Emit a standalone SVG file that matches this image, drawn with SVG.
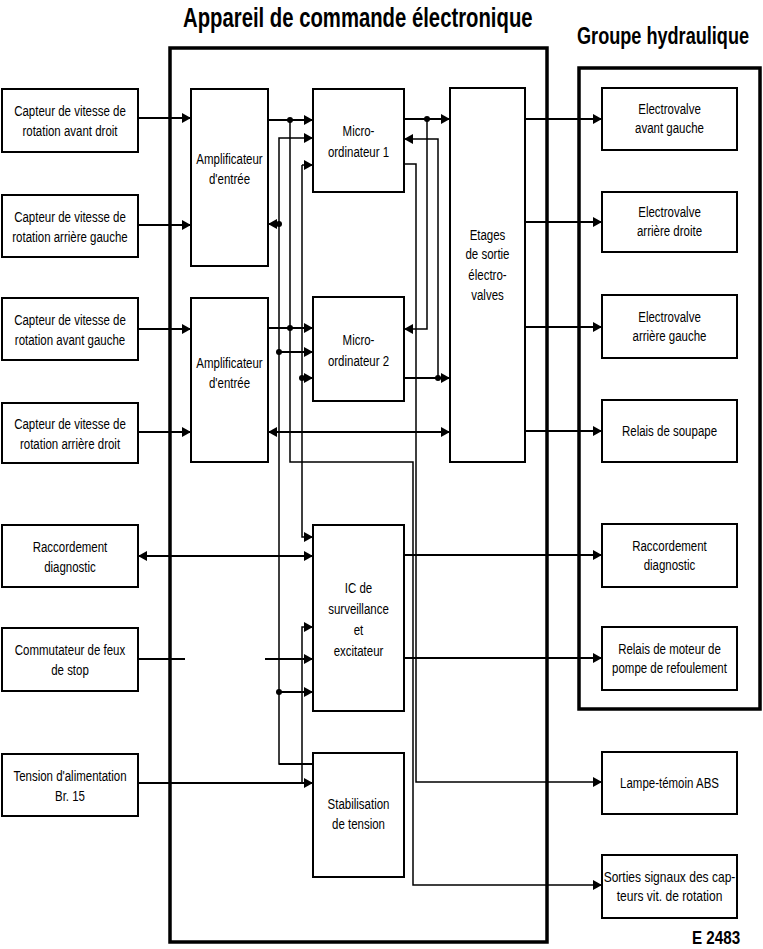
<svg xmlns="http://www.w3.org/2000/svg" width="763" height="949" viewBox="0 0 763 949">
<style>
.bx{fill:#fff;stroke:#000;stroke-width:2}
.frame{fill:none;stroke:#000;stroke-width:3.5}
.t{font-family:"Liberation Sans",Arial,sans-serif;font-size:14px;fill:#000;text-anchor:middle}
.h{font-family:"Liberation Sans",Arial,sans-serif;font-weight:bold;fill:#000}
.w{fill:none;stroke:#000;stroke-width:2}
.b{fill:none;stroke:#000;stroke-width:1.5}
.a{marker-end:url(#ah)}
.d2{marker-start:url(#ah);marker-end:url(#ah)}
.dot{fill:#000}
</style>
<defs>
<marker id="ah" markerUnits="userSpaceOnUse" viewBox="0 0 9 10" markerWidth="9" markerHeight="10" refX="9" refY="5" orient="auto-start-reverse"><path d="M0,0 L9,5 L0,10 z" fill="#000"/></marker>
</defs>
<rect width="763" height="949" fill="#fff"/>

<g id="titles">
<text class="h" font-size="27" transform="translate(183 27) scale(.752 1)" x="0" y="0">Appareil de commande électronique</text>
<text class="h" font-size="24" transform="translate(577 44) scale(.755 1)" x="0" y="0">Groupe hydraulique</text>
<text class="h" font-size="19" transform="translate(692 944) scale(.8 1)" x="0" y="0">E 2483</text>
</g>

<g id="appareil-frame"><rect class="frame" x="170" y="48" width="377" height="894"/></g>
<g id="groupe-frame"><rect class="frame" x="579" y="68" width="181" height="641"/></g>

<g id="connectors">
<path class="w a" d="M138,118 H191"/>
<path class="w a" d="M138,225 H191"/>
<path class="w a" d="M138,329 H191"/>
<path class="w a" d="M138,432 H191"/>
<path class="w a" d="M268,120 H313"/>
<path class="w a" d="M268,328 H313"/>
<path class="b a" d="M290,120 V462 H413 V885 H602"/>
<path class="b a" d="M313,764 H279 V138 H313"/>
<path class="w" d="M279,764 H313"/>
<path class="w a" d="M279,224 H268"/>
<path class="w a" d="M279,352 H313"/>
<path class="w a" d="M279,692 H313"/>
<path class="b a" d="M302,165 H313"/>
<path class="b a" d="M302,165 V537 H313"/>
<path class="w a" d="M302,378 H313"/>
<path class="b a" d="M302,783 V627 H313"/>
<path class="w d2" d="M138,556 H313"/>
<path class="w" d="M138,659 H185"/>
<path class="w a" d="M265,659 H313"/>
<path class="w a" d="M138,783 H313"/>
<path class="w a" d="M404,119 H450"/>
<path class="b a" d="M427,119 V329 H404"/>
<path class="b a" d="M438,378 V139 H404"/>
<path class="w a" d="M404,378 H450"/>
<path class="b a" d="M404,164 H416 V782 H602"/>
<path class="w d2" d="M268,432 H450"/>
<path class="w a" d="M525,119 H602"/>
<path class="w a" d="M525,222 H602"/>
<path class="w a" d="M525,327 H602"/>
<path class="w a" d="M525,431 H602"/>
<path class="w a" d="M404,555 H602"/>
<path class="w a" d="M404,658 H602"/>
<circle class="dot" cx="290" cy="120" r="3"/>
<circle class="dot" cx="290" cy="328" r="3"/>
<circle class="dot" cx="279" cy="224" r="3"/>
<circle class="dot" cx="279" cy="352" r="3"/>
<circle class="dot" cx="279" cy="692" r="3"/>
<circle class="dot" cx="302" cy="378" r="3"/>
<circle class="dot" cx="427" cy="119" r="3"/>
<circle class="dot" cx="438" cy="378" r="3"/>
</g>

<g id="cap1"><rect class="bx" x="2" y="89" width="136" height="63"/><text class="t" transform="translate(70) scale(.82 1)"><tspan x="0" y="116.5">Capteur de vitesse de</tspan><tspan x="0" y="136.5">rotation avant droit</tspan></text></g>
<g id="cap2"><rect class="bx" x="2" y="195" width="136" height="62"/><text class="t" transform="translate(70) scale(.82 1)"><tspan x="0" y="222">Capteur de vitesse de</tspan><tspan x="0" y="242">rotation arrière gauche</tspan></text></g>
<g id="cap3"><rect class="bx" x="2" y="298" width="136" height="62"/><text class="t" transform="translate(70) scale(.82 1)"><tspan x="0" y="325">Capteur de vitesse de</tspan><tspan x="0" y="345">rotation avant gauche</tspan></text></g>
<g id="cap4"><rect class="bx" x="2" y="403" width="136" height="60"/><text class="t" transform="translate(70) scale(.82 1)"><tspan x="0" y="429">Capteur de vitesse de</tspan><tspan x="0" y="449">rotation arrière droit</tspan></text></g>
<g id="diag-left"><rect class="bx" x="2" y="525" width="136" height="62"/><text class="t" transform="translate(70) scale(.82 1)"><tspan x="0" y="552">Raccordement</tspan><tspan x="0" y="572">diagnostic</tspan></text></g>
<g id="stop"><rect class="bx" x="2" y="628" width="136" height="63"/><text class="t" transform="translate(70) scale(.82 1)"><tspan x="0" y="655.5">Commutateur de feux</tspan><tspan x="0" y="675.5">de stop</tspan></text></g>
<g id="tension"><rect class="bx" x="2" y="754" width="136" height="62"/><text class="t" transform="translate(70) scale(.82 1)"><tspan x="0" y="781">Tension d'alimentation</tspan><tspan x="0" y="801">Br. 15</tspan></text></g>

<g id="amp1"><rect class="bx" x="191" y="89" width="77" height="177"/><text class="t" transform="translate(229.5) scale(.82 1)"><tspan x="0" y="164">Amplificateur</tspan><tspan x="0" y="184">d'entrée</tspan></text></g>
<g id="amp2"><rect class="bx" x="191" y="298" width="77" height="164"/><text class="t" transform="translate(229.5) scale(.82 1)"><tspan x="0" y="368">Amplificateur</tspan><tspan x="0" y="388">d'entrée</tspan></text></g>
<g id="micro1"><rect class="bx" x="313" y="89" width="91" height="103"/><text class="t" transform="translate(358.5) scale(.82 1)"><tspan x="0" y="136">Micro-</tspan><tspan x="0" y="157">ordinateur 1</tspan></text></g>
<g id="micro2"><rect class="bx" x="313" y="297" width="91" height="104"/><text class="t" transform="translate(358.5) scale(.82 1)"><tspan x="0" y="345">Micro-</tspan><tspan x="0" y="366">ordinateur 2</tspan></text></g>
<g id="etages"><rect class="bx" x="450" y="88" width="75" height="374"/><text class="t" transform="translate(487.5) scale(.82 1)"><tspan x="0" y="240">Etages</tspan><tspan x="0" y="259">de sortie</tspan><tspan x="0" y="280">électro-</tspan><tspan x="0" y="300">valves</tspan></text></g>
<g id="ic"><rect class="bx" x="313" y="525" width="91" height="186"/><text class="t" transform="translate(358.5) scale(.82 1)"><tspan x="0" y="593">IC de</tspan><tspan x="0" y="614">surveillance</tspan><tspan x="0" y="635">et</tspan><tspan x="0" y="656">excitateur</tspan></text></g>
<g id="stab"><rect class="bx" x="313" y="753" width="91" height="124"/><text class="t" transform="translate(358.5) scale(.82 1)"><tspan x="0" y="809">Stabilisation</tspan><tspan x="0" y="829">de tension</tspan></text></g>

<g id="ev-avg"><rect class="bx" x="602" y="88" width="135" height="62"/><text class="t" transform="translate(669.5) scale(.82 1)"><tspan x="0" y="114">Electrovalve</tspan><tspan x="0" y="133">avant gauche</tspan></text></g>
<g id="ev-ard"><rect class="bx" x="602" y="192" width="135" height="60"/><text class="t" transform="translate(669.5) scale(.82 1)"><tspan x="0" y="217">Electrovalve</tspan><tspan x="0" y="236">arrière droite</tspan></text></g>
<g id="ev-arg"><rect class="bx" x="602" y="295" width="135" height="63"/><text class="t" transform="translate(669.5) scale(.82 1)"><tspan x="0" y="322">Electrovalve</tspan><tspan x="0" y="341">arrière gauche</tspan></text></g>
<g id="relais-soupape"><rect class="bx" x="602" y="400" width="135" height="62"/><text class="t" transform="translate(669.5) scale(.82 1)"><tspan x="0" y="436">Relais de soupape</tspan></text></g>
<g id="diag-right"><rect class="bx" x="602" y="524" width="135" height="63"/><text class="t" transform="translate(669.5) scale(.82 1)"><tspan x="0" y="551">Raccordement</tspan><tspan x="0" y="570">diagnostic</tspan></text></g>
<g id="relais-pompe"><rect class="bx" x="602" y="627" width="135" height="63"/><text class="t" transform="translate(669.5) scale(.82 1)"><tspan x="0" y="654">Relais de moteur de</tspan><tspan x="0" y="673">pompe de refoulement</tspan></text></g>
<g id="lampe"><rect class="bx" x="602" y="752" width="135" height="62"/><text class="t" transform="translate(669.5) scale(.82 1)"><tspan x="0" y="788">Lampe-témoin ABS</tspan></text></g>
<g id="sorties"><rect class="bx" x="602" y="855" width="135" height="63"/><text class="t" transform="translate(669.5) scale(.86 1)"><tspan x="0" y="882">Sorties signaux des cap-</tspan><tspan x="0" y="901">teurs vit. de rotation</tspan></text></g>
</svg>
